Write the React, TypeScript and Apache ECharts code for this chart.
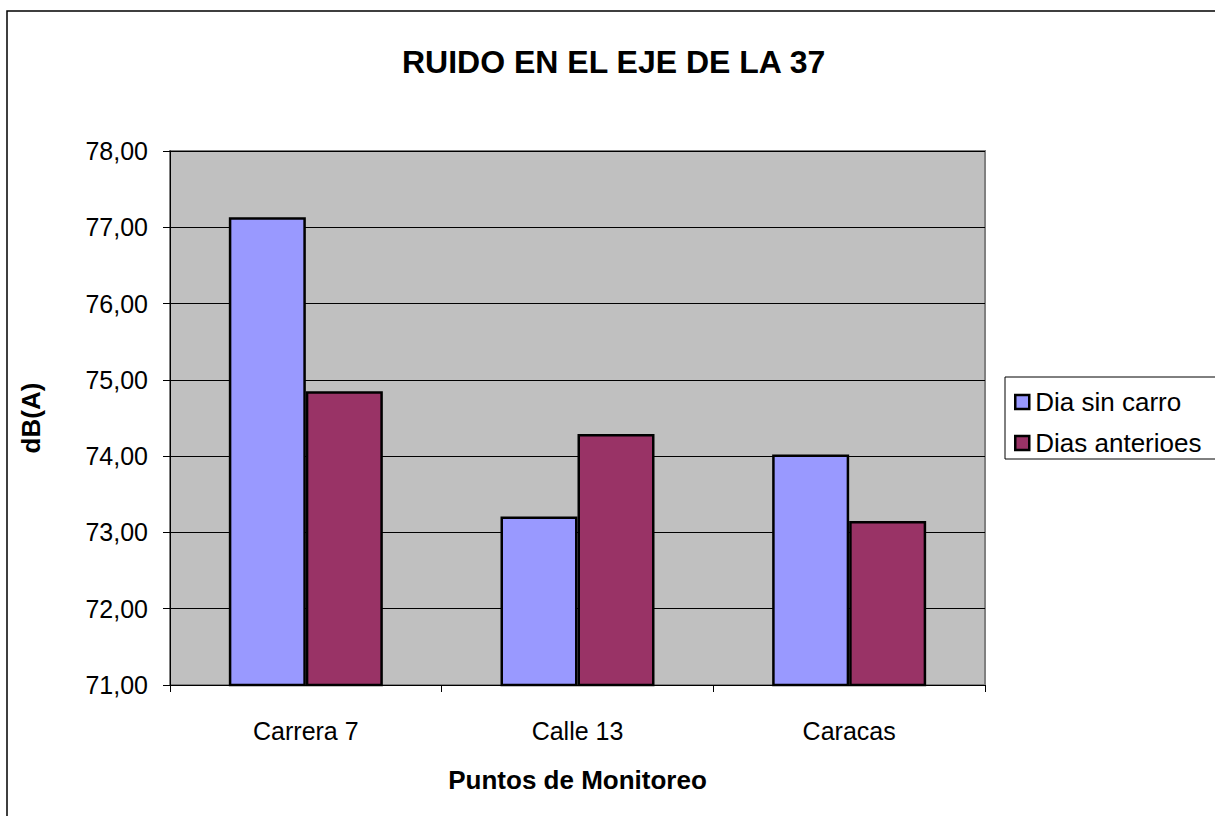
import React, { useEffect, useRef } from "react";
import * as echarts from "echarts";

const categories = ["Carrera 7", "Calle 13", "Caracas"];
const diaSinCarro = [77.13, 73.21, 74.02];
const diasAnteriores = [74.85, 74.29, 73.15];
const seriesNames = ["Dia sin carro", "Dias anterioes"];
const titleText = "RUIDO EN EL EJE DE LA 37";
const xName = "Puntos de Monitoreo";
const yName = "dB(A)";

const FONT = "'Liberation Sans', Arial, sans-serif";

export default function App() {
  const ref = useRef<HTMLDivElement>(null);
  useEffect(() => {
    if (!ref.current) return;
    const chart = echarts.init(ref.current, null, { renderer: "svg" });
    chart.setOption({
      animation: false,
      backgroundColor: "#ffffff",
      textStyle: { fontFamily: FONT },
      title: {
        text: titleText,
        left: 402,
        top: 46,
        padding: 0,
        textStyle: { fontSize: 32, fontWeight: "bold", color: "#000", fontFamily: FONT },
      },
      graphic: [
        {
          type: "rect",
          shape: { x: 7, y: 11, width: 1300, height: 900 },
          style: { fill: "none", stroke: "#000", lineWidth: 1.5 },
          silent: true,
        },
        {
          type: "rect",
          shape: { x: 1005, y: 377, width: 230, height: 82 },
          style: { fill: "#fff", stroke: "#000", lineWidth: 1 },
          silent: true,
          z: -1,
        },
      ],
      legend: {
        orient: "vertical",
        left: 1014,
        top: 389,
        padding: 0,
        itemWidth: 14,
        itemHeight: 14,
        itemGap: 15,
        icon: "rect",
        data: seriesNames,
        itemStyle: { borderColor: "#000", borderWidth: 2.5 },
        textStyle: { fontSize: 26, color: "#000", fontFamily: FONT, padding: [0, 0, 0, 1] },
      },
      grid: {
        left: 170,
        right: 230,
        top: 151,
        bottom: 131,
        show: true,
        backgroundColor: "#C0C0C0",
        borderColor: "#808080",
        borderWidth: 2,
      },
      xAxis: {
        type: "category",
        data: categories,
        name: xName,
        nameLocation: "middle",
        nameGap: 82,
        nameTextStyle: { fontSize: 26, fontWeight: "bold", color: "#000", fontFamily: FONT },
        axisLine: { lineStyle: { color: "#000", width: 1 } },
        axisTick: { show: true, length: 7, lineStyle: { color: "#000" } },
        axisLabel: { fontSize: 25, color: "#000", margin: 33, fontFamily: FONT },
      },
      yAxis: {
        type: "value",
        min: 71,
        max: 78,
        interval: 1,
        name: yName,
        nameLocation: "middle",
        nameGap: 126,
        nameRotate: 90,
        nameTextStyle: { fontSize: 26, fontWeight: "bold", color: "#000", fontFamily: FONT },
        axisLine: { show: true, lineStyle: { color: "#000", width: 1 } },
        axisTick: { show: true, length: 7, lineStyle: { color: "#000" } },
        axisLabel: {
          fontSize: 25,
          color: "#000",
          margin: 22,
          fontFamily: FONT,
          formatter: (v: number) => v.toFixed(2).replace(".", ","),
        },
        splitLine: { show: true, lineStyle: { color: "#000", width: 1 } },
      },
      series: [
        {
          name: seriesNames[0],
          type: "bar",
          data: diaSinCarro,
          barWidth: 77,
          barGap: "0%",
          itemStyle: { color: "#9999FF", borderColor: "#000", borderWidth: 2.5 },
        },
        {
          name: seriesNames[1],
          type: "bar",
          data: diasAnteriores,
          barWidth: 77,
          barGap: "0%",
          itemStyle: { color: "#993366", borderColor: "#000", borderWidth: 2.5 },
        },
      ],
    });
    return () => chart.dispose();
  }, []);
  return (
    <div
      ref={ref}
      style={{ position: "absolute", left: 0, top: 0, width: 1215, height: 816 }}
    />
  );
}
